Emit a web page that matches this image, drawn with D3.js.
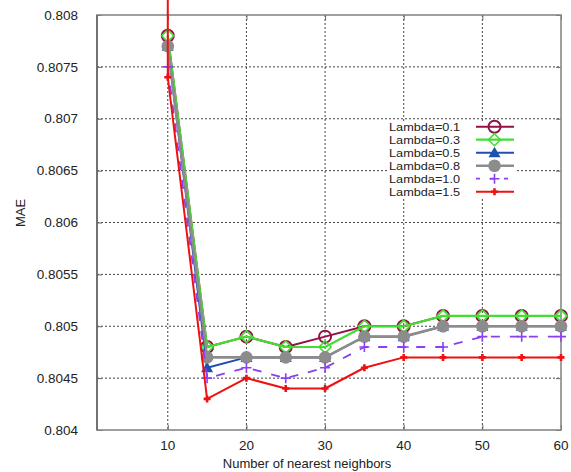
<!DOCTYPE html>
<html>
<head>
<meta charset="utf-8">
<script src="https://cdn.jsdelivr.net/npm/d3@7"></script>
<style>
  html, body { margin: 0; padding: 0; background: #fff; }
  svg { display: block; }
  text { font-family: "Liberation Sans", Arial, sans-serif; fill: #222; }
</style>
</head>
<body>
<svg id="chart" width="571" height="472"></svg>
<script>
// ---- data ----
const neighbors = [10, 15, 20, 25, 30, 35, 40, 45, 50, 55, 60];
const lambda01 = [0.8078, 0.8048, 0.8049, 0.8048, 0.8049, 0.8050, 0.8050, 0.8051, 0.8051, 0.8051, 0.8051];
const lambda03 = [0.8078, 0.8048, 0.8049, 0.8048, 0.8048, 0.8050, 0.8050, 0.8051, 0.8051, 0.8051, 0.8051];
const lambda05 = [0.8077, 0.8046, 0.8047, 0.8047, 0.8047, 0.8049, 0.8049, 0.8050, 0.8050, 0.8050, 0.8050];
const lambda08 = [0.8077, 0.8047, 0.8047, 0.8047, 0.8047, 0.8049, 0.8049, 0.8050, 0.8050, 0.8050, 0.8050];
const lambda10 = [0.8075, 0.8045, 0.8046, 0.8045, 0.8046, 0.8048, 0.8048, 0.8048, 0.8049, 0.8049, 0.8049];
const lambda15 = [0.8074, 0.8043, 0.8045, 0.8044, 0.8044, 0.8046, 0.8047, 0.8047, 0.8047, 0.8047, 0.8047];
const lambda15Lead = { x: 10, y: 0.8084 }; // off-scale value drawn above the frame
const seriesNames = ["Lambda=0.1", "Lambda=0.3", "Lambda=0.5", "Lambda=0.8", "Lambda=1.0", "Lambda=1.5"];
const xTicks = [10, 20, 30, 40, 50, 60];
const yTicks = [0.804, 0.8045, 0.805, 0.8055, 0.806, 0.8065, 0.807, 0.8075, 0.808];
const xLabel = "Number of nearest neighbors";
const yLabel = "MAE";

// ---- styles ----
const styles = [
  { color: "#961043", marker: "circleOpen", width: 2 },
  { color: "#44dd33", marker: "diamondOpen", width: 2.2 },
  { color: "#1f4fb0", marker: "triangle", width: 2 },
  { color: "#8c8c8c", marker: "circleFilled", width: 2.6 },
  { color: "#8a3ff0", marker: "plusThin", width: 1.8, dash: "9,10" },
  { color: "#ee1111", marker: "plusThick", width: 2 }
];
const allValues = [lambda01, lambda03, lambda05, lambda08, lambda10, lambda15];

const svg = d3.select("#chart");
const L = 97, R = 561, T = 15, B = 430;

const x = d3.scaleLinear().domain([1, 60]).range([L, R]);
const y = d3.scaleLinear().domain([0.804, 0.808]).range([B, T]);

// grid
const grid = svg.append("g");
grid.selectAll("line.v").data(xTicks.filter(d => d < 60)).join("line")
  .attr("x1", d => x(d)).attr("x2", d => x(d)).attr("y1", T).attr("y2", B)
  .attr("stroke", "#444").attr("stroke-width", 1).attr("stroke-dasharray", "2,2");
grid.selectAll("line.h").data(yTicks.filter(d => d > 0.804 && d < 0.808)).join("line")
  .attr("x1", L).attr("x2", R).attr("y1", d => y(d)).attr("y2", d => y(d))
  .attr("stroke", "#444").attr("stroke-width", 1).attr("stroke-dasharray", "2,2");

// axes (inward ticks)
const axL = svg.append("g").attr("transform", `translate(${L},0)`)
  .call(d3.axisRight(y).tickValues(yTicks).tickSize(5).tickFormat(""));
const axR = svg.append("g").attr("transform", `translate(${R},0)`)
  .call(d3.axisLeft(y).tickValues(yTicks).tickSize(5).tickFormat(""));
const axB = svg.append("g").attr("transform", `translate(0,${B})`)
  .call(d3.axisTop(x).tickValues(xTicks).tickSize(5).tickFormat(""));
const axT = svg.append("g").attr("transform", `translate(0,${T})`)
  .call(d3.axisBottom(x).tickValues(xTicks).tickSize(5).tickFormat(""));
[axL, axR, axB, axT].forEach(a => {
  a.select(".domain").remove();
  a.selectAll(".tick line").attr("stroke", "#666");
});

// tick labels
svg.append("g").selectAll("text").data(yTicks).join("text")
  .attr("x", 78).attr("y", d => y(d)).attr("dy", "0.35em")
  .attr("text-anchor", "end").attr("font-size", 13.5)
  .text(d => String(d));
svg.append("g").selectAll("text").data(xTicks).join("text")
  .attr("x", d => x(d)).attr("y", 445).attr("dy", "0.35em")
  .attr("text-anchor", "middle").attr("font-size", 13.5)
  .text(d => d);

// axis titles
svg.append("text").attr("x", 307).attr("y", 463).attr("dy", "0.35em")
  .attr("text-anchor", "middle").attr("font-size", 13).text(xLabel);
svg.append("text").attr("transform", "translate(20,213) rotate(-90)")
  .attr("dy", "0.35em").attr("text-anchor", "middle").attr("font-size", 13).text(yLabel);

// legend background (covers grid)
const legX = 388, legY = 121, legW = 129, legH = 77;
svg.append("rect").attr("x", legX).attr("y", legY).attr("width", legW).attr("height", legH).attr("fill", "#fff");

// frame
const frame = svg.append("g").attr("fill", "none");
frame.append("rect").attr("x", L).attr("y", T).attr("width", R - L).attr("height", B - T)
  .attr("stroke", "#888").attr("stroke-width", 1.6);
frame.append("line").attr("x1", L).attr("x2", L).attr("y1", T).attr("y2", B)
  .attr("stroke", "#555").attr("stroke-width", 1.2);

// marker drawer
function drawMarker(g, type, color, cx, cy) {
  if (type === "circleOpen") {
    g.append("circle").attr("cx", cx).attr("cy", cy).attr("r", 6)
      .attr("fill", "none").attr("stroke", color).attr("stroke-width", 2);
  } else if (type === "diamondOpen") {
    const s = 6;
    g.append("path").attr("d", `M${cx},${cy - s}L${cx + s},${cy}L${cx},${cy + s}L${cx - s},${cy}Z`)
      .attr("fill", "none").attr("stroke", color).attr("stroke-width", 1.6);
  } else if (type === "triangle") {
    const s = 6;
    g.append("path").attr("d", `M${cx},${cy - s}L${cx + s},${cy + s * 0.75}L${cx - s},${cy + s * 0.75}Z`)
      .attr("fill", color);
  } else if (type === "circleFilled") {
    g.append("circle").attr("cx", cx).attr("cy", cy).attr("r", 6.3).attr("fill", color);
  } else if (type === "plusThin") {
    const s = 5;
    g.append("path").attr("d", `M${cx - s},${cy}H${cx + s}M${cx},${cy - s}V${cy + s}`)
      .attr("stroke", color).attr("stroke-width", 1.6).attr("fill", "none");
  } else if (type === "plusThick") {
    const s = 3.5;
    g.append("path").attr("d", `M${cx - s},${cy}H${cx + s}M${cx},${cy - s}V${cy + s}`)
      .attr("stroke", color).attr("stroke-width", 2.6).attr("fill", "none");
  }
}

// series
const line = d3.line().x(d => x(d.x)).y(d => y(d.y));
const plot = svg.append("g");
allValues.forEach((vals, i) => {
  const st = styles[i];
  let pts = neighbors.map((n, j) => ({ x: n, y: vals[j] }));
  const linePts = i === 5 ? [lambda15Lead].concat(pts) : pts;
  const g = plot.append("g");
  g.append("path").datum(linePts).attr("d", line)
    .attr("fill", "none").attr("stroke", st.color).attr("stroke-width", st.width)
    .attr("stroke-dasharray", st.dash || null).attr("stroke-linejoin", "round");
  pts.forEach(p => drawMarker(g, st.marker, st.color, x(p.x), y(p.y)));
});

// legend
const leg = svg.append("g");
seriesNames.forEach((name, i) => {
  const st = styles[i];
  const cy = 126.7 + i * 13;
  leg.append("text").attr("x", 389).attr("y", cy).attr("dy", "0.35em")
    .attr("font-size", 11.3).attr("textLength", 71).attr("lengthAdjust", "spacingAndGlyphs")
    .text(name);
  leg.append("line").attr("x1", 476).attr("x2", 514).attr("y1", cy).attr("y2", cy)
    .attr("stroke", st.color).attr("stroke-width", st.width)
    .attr("stroke-dasharray", st.dash ? "4,10" : null);
  drawMarker(leg, st.marker, st.color, 494.5, cy);
});
</script>
</body>
</html>
